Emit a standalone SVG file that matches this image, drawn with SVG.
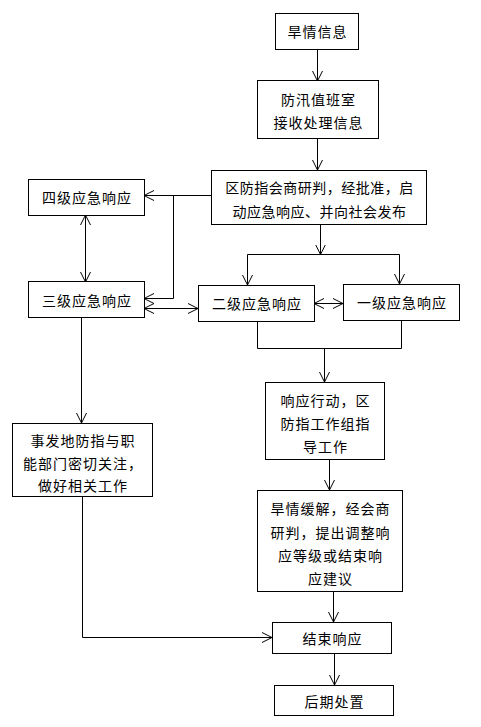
<svg xmlns="http://www.w3.org/2000/svg" width="481" height="727" viewBox="0 0 481 727">
<defs>
<marker id="ah" markerUnits="userSpaceOnUse" markerWidth="12" markerHeight="12" refX="10" refY="5" orient="auto-start-reverse" viewBox="0 0 12 10">
<polyline points="0,0 10,5 0,10" fill="none" stroke="#000" stroke-width="1"/>
</marker>
<style>
.b{fill:#fff;stroke:#000;stroke-width:1}
.t{font-family:"Noto Sans CJK SC","Noto Sans CJK JP",sans-serif;font-size:14px;fill:#000;text-anchor:middle;dominant-baseline:central;letter-spacing:1px}
.c{fill:none;stroke:#000;stroke-width:1}
.a{marker-end:url(#ah)}
.d{marker-start:url(#ah);marker-end:url(#ah)}
</style>
</defs>
<rect width="481" height="727" fill="#fff"/>
<g id="connectors">
<line class="c a" x1="317.5" y1="49" x2="317.5" y2="81"/>
<line class="c a" x1="317.5" y1="138" x2="317.5" y2="170"/>
<line class="c a" x1="212" y1="195.5" x2="144" y2="195.5"/>
<polyline class="c a" points="173.5,195.5 173.5,298.5 144,298.5"/>
<line class="c d" x1="85.5" y1="215" x2="85.5" y2="282"/>
<line class="c d" x1="144" y1="308.5" x2="198" y2="308.5"/>
<line class="c a" x1="320.5" y1="224" x2="320.5" y2="254.5"/>
<line class="c" x1="247.5" y1="254.5" x2="399.5" y2="254.5"/>
<line class="c a" x1="247.5" y1="254.5" x2="247.5" y2="285"/>
<line class="c a" x1="399.5" y1="254.5" x2="399.5" y2="284"/>
<line class="c d" x1="314" y1="303.5" x2="343" y2="303.5"/>
<polyline class="c" points="257.5,322 257.5,348.5 401.5,348.5 401.5,320"/>
<line class="c a" x1="324.5" y1="348.5" x2="324.5" y2="382"/>
<line class="c a" x1="329.5" y1="459" x2="329.5" y2="490"/>
<line class="c a" x1="333.5" y1="591" x2="333.5" y2="622"/>
<line class="c a" x1="334.5" y1="653" x2="334.5" y2="685"/>
<line class="c a" x1="81.5" y1="317" x2="81.5" y2="423"/>
<polyline class="c a" points="82.5,496 82.5,637.5 272,637.5"/>
</g>
<g id="n1"><rect class="b" x="275.5" y="13.5" width="83" height="36"/><text class="t" x="317.5" y="31">旱情信息</text></g>
<g id="n2"><rect class="b" x="257.5" y="80.5" width="121" height="58"/><text class="t" x="318.5" y="99">防汛值班室</text><text class="t" x="318.5" y="122">接收处理信息</text></g>
<g id="n3"><rect class="b" x="211.5" y="170.5" width="215" height="54"/><text class="t" x="319.5" y="187" style="letter-spacing:0.5px">区防指会商研判，经批准，启</text><text class="t" x="319.5" y="210.5" style="letter-spacing:0.5px">动应急响应、并向社会发布</text></g>
<g id="n4"><rect class="b" x="28.5" y="179.5" width="116" height="36"/><text class="t" x="87" y="197">四级应急响应</text></g>
<g id="n5"><rect class="b" x="28.5" y="281.5" width="116" height="36"/><text class="t" x="87" y="299.5">三级应急响应</text></g>
<g id="n6"><rect class="b" x="198.5" y="285.5" width="116" height="36"/><text class="t" x="257" y="303">二级应急响应</text></g>
<g id="n7"><rect class="b" x="343.5" y="284.5" width="116" height="36"/><text class="t" x="402" y="302">一级应急响应</text></g>
<g id="n8"><rect class="b" x="265.5" y="382.5" width="119" height="77"/><text class="t" x="325.5" y="400">响应行动，区</text><text class="t" x="325.5" y="423">防指工作组指</text><text class="t" x="325.5" y="446">导工作</text></g>
<g id="n9"><rect class="b" x="257.5" y="490.5" width="145" height="101"/><text class="t" x="330.5" y="508">旱情缓解，经会商</text><text class="t" x="330.5" y="531.5">研判，提出调整响</text><text class="t" x="330.5" y="555">应等级或结束响</text><text class="t" x="330.5" y="577.5">应建议</text></g>
<g id="n10"><rect class="b" x="12.5" y="423.5" width="140" height="73"/><text class="t" x="83" y="439.5">事发地防指与职</text><text class="t" x="83" y="462.5">能部门密切关注，</text><text class="t" x="83" y="485">做好相关工作</text></g>
<g id="n11"><rect class="b" x="272.5" y="622.5" width="119" height="31"/><text class="t" x="332.5" y="638">结束响应</text></g>
<g id="n12"><rect class="b" x="274.5" y="685.5" width="119" height="30"/><text class="t" x="334.5" y="700.5">后期处置</text></g>
</svg>
